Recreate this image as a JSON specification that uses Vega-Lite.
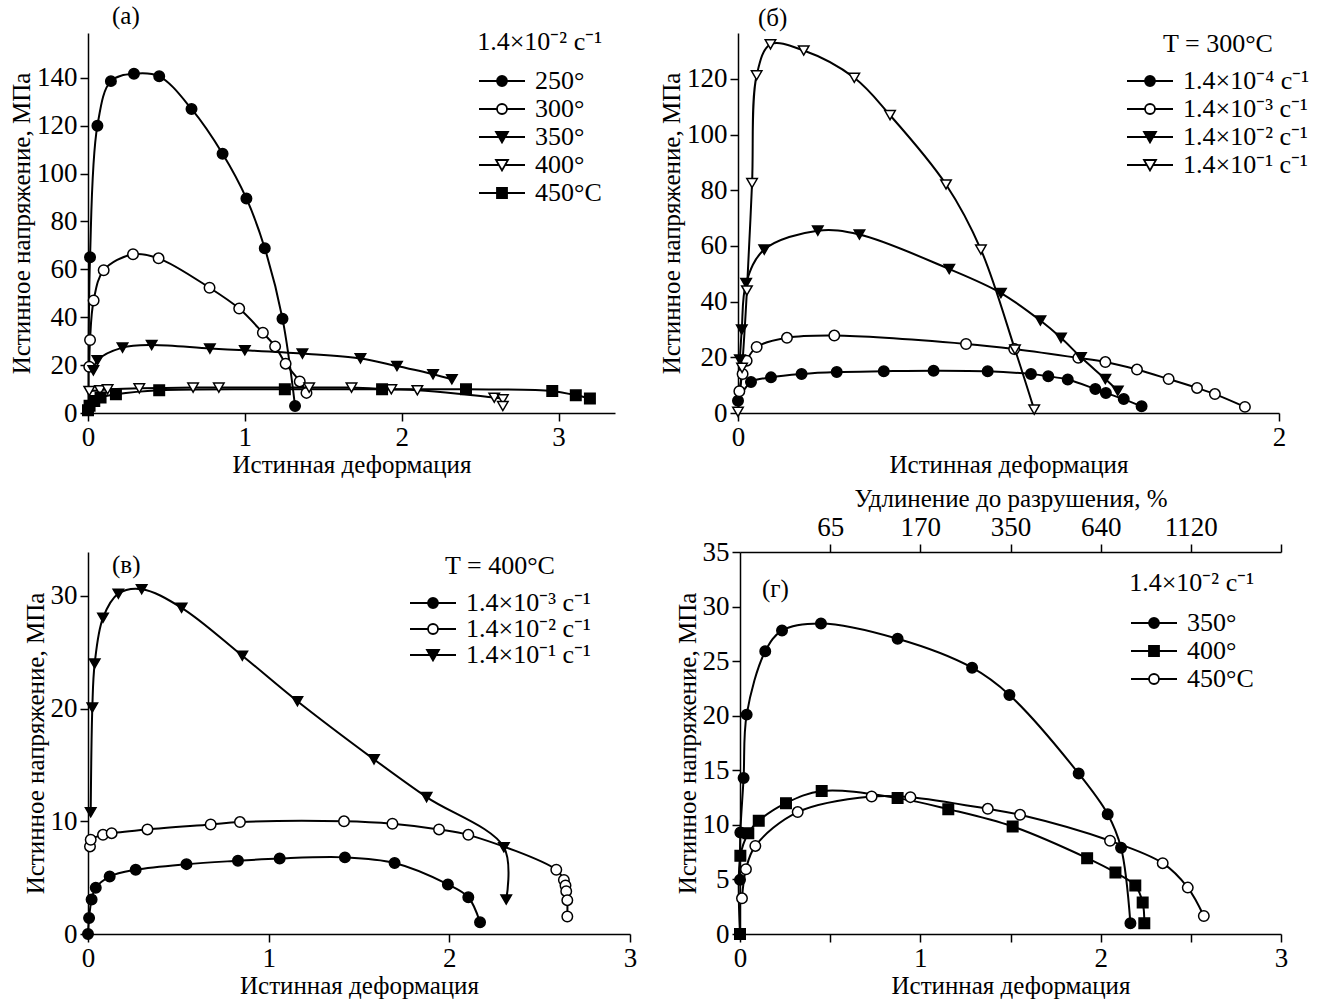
{
  "$schema": "https://vega.github.io/schema/vega-lite/v6.json",
  "padding": {"left": 9, "top": 4, "right": 5, "bottom": 5},
  "background": "white",
  "config": {
    "font": "Liberation Serif",
    "view": {"stroke": null},
    "axis": {"grid": false, "domainColor": "black", "tickColor": "black", "labelColor": "black", "titleColor": "black",
             "labelFont": "Liberation Serif", "titleFont": "Liberation Serif", "labelFontSize": 27, "titleFontSize": 25,
             "titleFontWeight": "normal", "tickSize": 8, "domainWidth": 1.5, "tickWidth": 1.5, "labelPadding": 3, "titlePadding": 2, "labelFlush": false, "labelOverlap": false},
    "legend": {"labelFont": "Liberation Serif", "titleFont": "Liberation Serif", "labelFontSize": 26, "titleFontSize": 26,
               "titleFontWeight": "normal", "labelColor": "black", "titleColor": "black", "labelLimit": 0, "titleLimit": 0, "padding": 0,
               "symbolSize": 100, "symbolOffset": 10, "labelOffset": 20, "symbolOpacity": 1, "symbolStrokeWidth": 1.8},
    "title": {"font": "Liberation Serif", "fontSize": 25, "fontWeight": "normal", "color": "black"}
  },
  "datasets": {
    "a": [
      {"s": "250°", "x": 0.004, "y": 2},
      {"s": "250°", "x": 0.013, "y": 65},
      {"s": "250°", "x": 0.06, "y": 120},
      {"s": "250°", "x": 0.146, "y": 138.6},
      {"s": "250°", "x": 0.293, "y": 141.7},
      {"s": "250°", "x": 0.454, "y": 140.6},
      {"s": "250°", "x": 0.66, "y": 127},
      {"s": "250°", "x": 0.858, "y": 108.3},
      {"s": "250°", "x": 1.01, "y": 89.6},
      {"s": "250°", "x": 1.127, "y": 68.8},
      {"s": "250°", "x": 1.24, "y": 39.4},
      {"s": "250°", "x": 1.32, "y": 2.9},
      {"s": "300°", "x": 0.008, "y": 19.3},
      {"s": "300°", "x": 0.013, "y": 30.5},
      {"s": "300°", "x": 0.036, "y": 47},
      {"s": "300°", "x": 0.1, "y": 59.6},
      {"s": "300°", "x": 0.287, "y": 66.3},
      {"s": "300°", "x": 0.45, "y": 64.6},
      {"s": "300°", "x": 0.775, "y": 52.3},
      {"s": "300°", "x": 0.964, "y": 43.6},
      {"s": "300°", "x": 1.115, "y": 33.5},
      {"s": "300°", "x": 1.193, "y": 27.8},
      {"s": "300°", "x": 1.26, "y": 20.6},
      {"s": "300°", "x": 1.35, "y": 13.2},
      {"s": "300°", "x": 1.393, "y": 8.4},
      {"s": "350°", "x": 0.034, "y": 17.8},
      {"s": "350°", "x": 0.06, "y": 22},
      {"s": "350°", "x": 0.22, "y": 27.3},
      {"s": "350°", "x": 0.406, "y": 28.4},
      {"s": "350°", "x": 0.777, "y": 26.9},
      {"s": "350°", "x": 1.0, "y": 26.2},
      {"s": "350°", "x": 1.367, "y": 24.8},
      {"s": "350°", "x": 1.737, "y": 22.8},
      {"s": "350°", "x": 1.97, "y": 19.6},
      {"s": "350°", "x": 2.2, "y": 16.2},
      {"s": "350°", "x": 2.32, "y": 14.1},
      {"s": "400°", "x": 0.008, "y": 9.2},
      {"s": "400°", "x": 0.076, "y": 9.5},
      {"s": "400°", "x": 0.125, "y": 9.9},
      {"s": "400°", "x": 0.327, "y": 10.3},
      {"s": "400°", "x": 0.67, "y": 10.6},
      {"s": "400°", "x": 0.834, "y": 10.6},
      {"s": "400°", "x": 1.41, "y": 10.6},
      {"s": "400°", "x": 1.68, "y": 10.6},
      {"s": "400°", "x": 1.934, "y": 9.9},
      {"s": "400°", "x": 2.1, "y": 9.5},
      {"s": "400°", "x": 2.59, "y": 6.4},
      {"s": "400°", "x": 2.645, "y": 5.7},
      {"s": "400°", "x": 2.645, "y": 2.9},
      {"s": "450°C", "x": 0.0, "y": 1.1},
      {"s": "450°C", "x": 0.01, "y": 3},
      {"s": "450°C", "x": 0.04, "y": 5},
      {"s": "450°C", "x": 0.08, "y": 6.5},
      {"s": "450°C", "x": 0.178, "y": 7.8},
      {"s": "450°C", "x": 0.454, "y": 9.5},
      {"s": "450°C", "x": 1.255, "y": 9.9},
      {"s": "450°C", "x": 1.875, "y": 9.9},
      {"s": "450°C", "x": 2.41, "y": 9.9},
      {"s": "450°C", "x": 2.96, "y": 9.2},
      {"s": "450°C", "x": 3.11, "y": 7.4},
      {"s": "450°C", "x": 3.2, "y": 6.1}
    ],
    "b": [
      {"s": "1.4×10⁻⁴ с⁻¹", "x": 0.0, "y": 4.4},
      {"s": "1.4×10⁻⁴ с⁻¹", "x": 0.048, "y": 11.1},
      {"s": "1.4×10⁻⁴ с⁻¹", "x": 0.122, "y": 12.8},
      {"s": "1.4×10⁻⁴ с⁻¹", "x": 0.235, "y": 14},
      {"s": "1.4×10⁻⁴ с⁻¹", "x": 0.365, "y": 14.7},
      {"s": "1.4×10⁻⁴ с⁻¹", "x": 0.539, "y": 15},
      {"s": "1.4×10⁻⁴ с⁻¹", "x": 0.723, "y": 15.2},
      {"s": "1.4×10⁻⁴ с⁻¹", "x": 0.923, "y": 15},
      {"s": "1.4×10⁻⁴ с⁻¹", "x": 1.083, "y": 14},
      {"s": "1.4×10⁻⁴ с⁻¹", "x": 1.147, "y": 13.2},
      {"s": "1.4×10⁻⁴ с⁻¹", "x": 1.219, "y": 12},
      {"s": "1.4×10⁻⁴ с⁻¹", "x": 1.321, "y": 8.6},
      {"s": "1.4×10⁻⁴ с⁻¹", "x": 1.36, "y": 7.2},
      {"s": "1.4×10⁻⁴ с⁻¹", "x": 1.426, "y": 5},
      {"s": "1.4×10⁻⁴ с⁻¹", "x": 1.492, "y": 2.4},
      {"s": "1.4×10⁻³ с⁻¹", "x": 0.005, "y": 7.8},
      {"s": "1.4×10⁻³ с⁻¹", "x": 0.017, "y": 14},
      {"s": "1.4×10⁻³ с⁻¹", "x": 0.032, "y": 18.8},
      {"s": "1.4×10⁻³ с⁻¹", "x": 0.069, "y": 23.7},
      {"s": "1.4×10⁻³ с⁻¹", "x": 0.181, "y": 27},
      {"s": "1.4×10⁻³ с⁻¹", "x": 0.356, "y": 27.8},
      {"s": "1.4×10⁻³ с⁻¹", "x": 0.843, "y": 24.8},
      {"s": "1.4×10⁻³ с⁻¹", "x": 1.021, "y": 23},
      {"s": "1.4×10⁻³ с⁻¹", "x": 1.258, "y": 19.8},
      {"s": "1.4×10⁻³ с⁻¹", "x": 1.358, "y": 18.3},
      {"s": "1.4×10⁻³ с⁻¹", "x": 1.475, "y": 15.6},
      {"s": "1.4×10⁻³ с⁻¹", "x": 1.592, "y": 12.2},
      {"s": "1.4×10⁻³ с⁻¹", "x": 1.697, "y": 9},
      {"s": "1.4×10⁻³ с⁻¹", "x": 1.763, "y": 6.8},
      {"s": "1.4×10⁻³ с⁻¹", "x": 1.874, "y": 2.2},
      {"s": "1.4×10⁻² с⁻¹", "x": 0.007, "y": 19.2},
      {"s": "1.4×10⁻² с⁻¹", "x": 0.014, "y": 30},
      {"s": "1.4×10⁻² с⁻¹", "x": 0.03, "y": 46.7},
      {"s": "1.4×10⁻² с⁻¹", "x": 0.097, "y": 58.7},
      {"s": "1.4×10⁻² с⁻¹", "x": 0.295, "y": 65.5},
      {"s": "1.4×10⁻² с⁻¹", "x": 0.449, "y": 64.1},
      {"s": "1.4×10⁻² с⁻¹", "x": 0.781, "y": 51.7},
      {"s": "1.4×10⁻² с⁻¹", "x": 0.972, "y": 43.1},
      {"s": "1.4×10⁻² с⁻¹", "x": 1.118, "y": 33.2},
      {"s": "1.4×10⁻² с⁻¹", "x": 1.194, "y": 27},
      {"s": "1.4×10⁻² с⁻¹", "x": 1.268, "y": 20},
      {"s": "1.4×10⁻² с⁻¹", "x": 1.358, "y": 12.2},
      {"s": "1.4×10⁻² с⁻¹", "x": 1.404, "y": 8},
      {"s": "1.4×10⁻¹ с⁻¹", "x": 0.0, "y": 0.4},
      {"s": "1.4×10⁻¹ с⁻¹", "x": 0.015, "y": 16.2},
      {"s": "1.4×10⁻¹ с⁻¹", "x": 0.033, "y": 44},
      {"s": "1.4×10⁻¹ с⁻¹", "x": 0.052, "y": 82.6},
      {"s": "1.4×10⁻¹ с⁻¹", "x": 0.069, "y": 121.3},
      {"s": "1.4×10⁻¹ с⁻¹", "x": 0.12, "y": 132.4},
      {"s": "1.4×10⁻¹ с⁻¹", "x": 0.243, "y": 130.2},
      {"s": "1.4×10⁻¹ с⁻¹", "x": 0.43, "y": 120.4},
      {"s": "1.4×10⁻¹ с⁻¹", "x": 0.562, "y": 107},
      {"s": "1.4×10⁻¹ с⁻¹", "x": 0.769, "y": 82.1},
      {"s": "1.4×10⁻¹ с⁻¹", "x": 0.898, "y": 58.7},
      {"s": "1.4×10⁻¹ с⁻¹", "x": 1.024, "y": 22.8},
      {"s": "1.4×10⁻¹ с⁻¹", "x": 1.095, "y": 1.2}
    ],
    "c": [
      {"s": "1.4×10⁻³ с⁻¹", "x": 0.0, "y": 0},
      {"s": "1.4×10⁻³ с⁻¹", "x": 0.006, "y": 1.42},
      {"s": "1.4×10⁻³ с⁻¹", "x": 0.02, "y": 3.06},
      {"s": "1.4×10⁻³ с⁻¹", "x": 0.043, "y": 4.1},
      {"s": "1.4×10⁻³ с⁻¹", "x": 0.12, "y": 5.1},
      {"s": "1.4×10⁻³ с⁻¹", "x": 0.264, "y": 5.7},
      {"s": "1.4×10⁻³ с⁻¹", "x": 0.545, "y": 6.2},
      {"s": "1.4×10⁻³ с⁻¹", "x": 0.83, "y": 6.5},
      {"s": "1.4×10⁻³ с⁻¹", "x": 1.061, "y": 6.7},
      {"s": "1.4×10⁻³ с⁻¹", "x": 1.422, "y": 6.8},
      {"s": "1.4×10⁻³ с⁻¹", "x": 1.697, "y": 6.3},
      {"s": "1.4×10⁻³ с⁻¹", "x": 1.992, "y": 4.4},
      {"s": "1.4×10⁻³ с⁻¹", "x": 2.105, "y": 3.26},
      {"s": "1.4×10⁻³ с⁻¹", "x": 2.17, "y": 1.04},
      {"s": "1.4×10⁻² с⁻¹", "x": 0.011, "y": 7.77},
      {"s": "1.4×10⁻² с⁻¹", "x": 0.015, "y": 8.36},
      {"s": "1.4×10⁻² с⁻¹", "x": 0.083, "y": 8.8},
      {"s": "1.4×10⁻² с⁻¹", "x": 0.131, "y": 8.95},
      {"s": "1.4×10⁻² с⁻¹", "x": 0.329, "y": 9.28},
      {"s": "1.4×10⁻² с⁻¹", "x": 0.679, "y": 9.72},
      {"s": "1.4×10⁻² с⁻¹", "x": 0.841, "y": 9.93},
      {"s": "1.4×10⁻² с⁻¹", "x": 1.417, "y": 10},
      {"s": "1.4×10⁻² с⁻¹", "x": 1.685, "y": 9.78},
      {"s": "1.4×10⁻² с⁻¹", "x": 1.943, "y": 9.28},
      {"s": "1.4×10⁻² с⁻¹", "x": 2.105, "y": 8.8},
      {"s": "1.4×10⁻² с⁻¹", "x": 2.592, "y": 5.7},
      {"s": "1.4×10⁻² с⁻¹", "x": 2.634, "y": 4.8},
      {"s": "1.4×10⁻² с⁻¹", "x": 2.643, "y": 4.3},
      {"s": "1.4×10⁻² с⁻¹", "x": 2.647, "y": 3.8},
      {"s": "1.4×10⁻² с⁻¹", "x": 2.653, "y": 3.0},
      {"s": "1.4×10⁻² с⁻¹", "x": 2.653, "y": 1.55},
      {"s": "1.4×10⁻¹ с⁻¹", "x": 0.015, "y": 10.8},
      {"s": "1.4×10⁻¹ с⁻¹", "x": 0.024, "y": 20.1},
      {"s": "1.4×10⁻¹ с⁻¹", "x": 0.037, "y": 24},
      {"s": "1.4×10⁻¹ с⁻¹", "x": 0.083, "y": 28.06},
      {"s": "1.4×10⁻¹ с⁻¹", "x": 0.168, "y": 30.2},
      {"s": "1.4×10⁻¹ с⁻¹", "x": 0.297, "y": 30.6},
      {"s": "1.4×10⁻¹ с⁻¹", "x": 0.518, "y": 28.95},
      {"s": "1.4×10⁻¹ с⁻¹", "x": 0.854, "y": 24.7},
      {"s": "1.4×10⁻¹ с⁻¹", "x": 1.159, "y": 20.66},
      {"s": "1.4×10⁻¹ с⁻¹", "x": 1.583, "y": 15.5},
      {"s": "1.4×10⁻¹ с⁻¹", "x": 1.874, "y": 12.15},
      {"s": "1.4×10⁻¹ с⁻¹", "x": 2.302, "y": 7.7},
      {"s": "1.4×10⁻¹ с⁻¹", "x": 2.315, "y": 3.06}
    ],
    "d": [
      {"s": "350°", "x": 0.0, "y": 4.96},
      {"s": "350°", "x": 0.002, "y": 9.3},
      {"s": "350°", "x": 0.02, "y": 14.3},
      {"s": "350°", "x": 0.037, "y": 20.1},
      {"s": "350°", "x": 0.14, "y": 25.9},
      {"s": "350°", "x": 0.233, "y": 27.8},
      {"s": "350°", "x": 0.449, "y": 28.45},
      {"s": "350°", "x": 0.874, "y": 27.05},
      {"s": "350°", "x": 1.287, "y": 24.4},
      {"s": "350°", "x": 1.494, "y": 21.9},
      {"s": "350°", "x": 1.878, "y": 14.7},
      {"s": "350°", "x": 2.039, "y": 10.98},
      {"s": "350°", "x": 2.113, "y": 7.9},
      {"s": "350°", "x": 2.165, "y": 0.98},
      {"s": "400°", "x": 0.0, "y": 0},
      {"s": "400°", "x": 0.002, "y": 7.16},
      {"s": "400°", "x": 0.046, "y": 9.24},
      {"s": "400°", "x": 0.104, "y": 10.37},
      {"s": "400°", "x": 0.255, "y": 11.99},
      {"s": "400°", "x": 0.453, "y": 13.1},
      {"s": "400°", "x": 0.874, "y": 12.45},
      {"s": "400°", "x": 1.155, "y": 11.44},
      {"s": "400°", "x": 1.512, "y": 9.85},
      {"s": "400°", "x": 1.925, "y": 6.95},
      {"s": "400°", "x": 2.082, "y": 5.63},
      {"s": "400°", "x": 2.192, "y": 4.44},
      {"s": "400°", "x": 2.233, "y": 2.88},
      {"s": "400°", "x": 2.242, "y": 0.98},
      {"s": "450°C", "x": 0.011, "y": 3.27},
      {"s": "450°C", "x": 0.033, "y": 5.93},
      {"s": "450°C", "x": 0.085, "y": 8.07},
      {"s": "450°C", "x": 0.32, "y": 11.17},
      {"s": "450°C", "x": 0.73, "y": 12.6},
      {"s": "450°C", "x": 0.945, "y": 12.54},
      {"s": "450°C", "x": 1.374, "y": 11.47},
      {"s": "450°C", "x": 1.553, "y": 10.92},
      {"s": "450°C", "x": 2.052, "y": 8.54},
      {"s": "450°C", "x": 2.344, "y": 6.49},
      {"s": "450°C", "x": 2.483, "y": 4.25},
      {"s": "450°C", "x": 2.572, "y": 1.65}
    ]
  },
  "spacing": 9,
  "resolve": {"scale": {"shape": "independent", "fill": "independent", "x": "independent", "y": "independent"}, "legend": {"shape": "independent", "fill": "independent"}},
  "vconcat": [
    {
      "spacing": 44,
      "resolve": {"scale": {"shape": "independent", "fill": "independent", "x": "independent", "y": "independent"}, "legend": {"shape": "independent", "fill": "independent"}},
      "hconcat": [
        {
          "width": 527, "height": 380,
          "title": {"text": "(а)", "anchor": "start", "frame": "group", "dx": 24, "offset": 0},
          "data": {"name": "a"},
          "resolve": {"scale": {"shape": "independent", "fill": "independent"}, "legend": {"shape": "independent", "fill": "independent"}},
          "layer": [
            {"mark": {"type": "line", "interpolate": "catmull-rom", "color": "black", "strokeWidth": 2},
             "encoding": {
               "x": {"field": "x", "type": "quantitative", "scale": {"domain": [0, 3.36], "nice": false, "zero": false}, "axis": {"values": [0, 1, 2, 3], "format": "d", "title": "Истинная деформация"}},
               "y": {"field": "y", "type": "quantitative", "scale": {"domain": [0, 158.7], "nice": false}, "axis": {"values": [0, 20, 40, 60, 80, 100, 120, 140], "format": "d", "title": "Истинное напряжение, МПа"}},
               "detail": {"field": "s"}, "order": {"value": null}}},
            {"mark": {"type": "point", "size": 110, "stroke": "black", "strokeWidth": 1.5, "opacity": 1},
             "encoding": {
               "x": {"field": "x", "type": "quantitative"},
               "y": {"field": "y", "type": "quantitative"},
               "shape": {"field": "s", "type": "nominal", "scale": {"domain": ["250°", "300°", "350°", "400°", "450°C"], "range": ["circle", "circle", "triangle-down", "triangle-down", "square"]}, "legend": null},
               "fill": {"field": "s", "type": "nominal", "scale": {"domain": ["250°", "300°", "350°", "400°", "450°C"], "range": ["black", "white", "black", "white", "black"]}, "legend": null}}},
            {"mark": {"type": "point", "size": 110, "stroke": "black", "strokeWidth": 1.8, "opacity": 0},
             "encoding": {
               "x": {"field": "x", "type": "quantitative"},
               "y": {"field": "y", "type": "quantitative"},
               "shape": {"field": "s", "type": "nominal",
                 "scale": {"domain": ["250°", "300°", "350°", "400°", "450°C"], "range": ["M-4.6,0H-1M1,0H4.6M-1,0A1,1,0,1,1,1,0A1,1,0,1,1,-1,0Z", "M-4.6,0H-1M1,0H4.6M-1,0A1,1,0,1,1,1,0A1,1,0,1,1,-1,0Z", "M-4.6,0H-0.63M0.63,0H4.6M-1.2,-1L1.2,-1L0,1.1Z", "M-4.6,0H-0.63M0.63,0H4.6M-1.2,-1L1.2,-1L0,1.1Z", "M-4.6,0H-1M1,0H4.6M-1,-1H1V1H-1Z"]},
                 "legend": {"title": "1.4×10⁻² с⁻¹", "orient": "none", "legendX": 389, "legendY": -4, "titleAnchor": "end", "titlePadding": 13, "rowPadding": 2}},
               "fill": {"field": "s", "type": "nominal", "scale": {"domain": ["250°", "300°", "350°", "400°", "450°C"], "range": ["black", "white", "black", "white", "black"]},
                 "legend": {"title": "1.4×10⁻² с⁻¹", "orient": "none", "legendX": 389, "legendY": -4, "titleAnchor": "end", "titlePadding": 13, "rowPadding": 2}}}}
          ]
        },
        {
          "width": 541, "height": 380,
          "title": {"text": "(б)", "anchor": "start", "frame": "group", "dx": 20, "offset": 0},
          "data": {"name": "b"},
          "resolve": {"scale": {"shape": "independent", "fill": "independent"}, "legend": {"shape": "independent", "fill": "independent"}},
          "layer": [
            {"mark": {"type": "line", "interpolate": "catmull-rom", "color": "black", "strokeWidth": 2},
             "encoding": {
               "x": {"field": "x", "type": "quantitative", "scale": {"domain": [0, 2], "nice": false, "zero": false}, "axis": {"values": [0, 1, 2], "format": "d", "title": "Истинная деформация"}},
               "y": {"field": "y", "type": "quantitative", "scale": {"domain": [0, 136.5], "nice": false}, "axis": {"values": [0, 20, 40, 60, 80, 100, 120], "format": "d", "title": "Истинное напряжение, МПа"}},
               "detail": {"field": "s"}, "order": {"value": null}}},
            {"mark": {"type": "point", "size": 110, "stroke": "black", "strokeWidth": 1.5, "opacity": 1},
             "encoding": {
               "x": {"field": "x", "type": "quantitative"},
               "y": {"field": "y", "type": "quantitative"},
               "shape": {"field": "s", "type": "nominal", "scale": {"domain": ["1.4×10⁻⁴ с⁻¹", "1.4×10⁻³ с⁻¹", "1.4×10⁻² с⁻¹", "1.4×10⁻¹ с⁻¹"], "range": ["circle", "circle", "triangle-down", "triangle-down"]}, "legend": null},
               "fill": {"field": "s", "type": "nominal", "scale": {"domain": ["1.4×10⁻⁴ с⁻¹", "1.4×10⁻³ с⁻¹", "1.4×10⁻² с⁻¹", "1.4×10⁻¹ с⁻¹"], "range": ["black", "white", "black", "white"]}, "legend": null}}},
            {"mark": {"type": "point", "size": 110, "stroke": "black", "strokeWidth": 1.8, "opacity": 0},
             "encoding": {
               "x": {"field": "x", "type": "quantitative"},
               "y": {"field": "y", "type": "quantitative"},
               "shape": {"field": "s", "type": "nominal",
                 "scale": {"domain": ["1.4×10⁻⁴ с⁻¹", "1.4×10⁻³ с⁻¹", "1.4×10⁻² с⁻¹", "1.4×10⁻¹ с⁻¹"], "range": ["M-4.6,0H-1M1,0H4.6M-1,0A1,1,0,1,1,1,0A1,1,0,1,1,-1,0Z", "M-4.6,0H-1M1,0H4.6M-1,0A1,1,0,1,1,1,0A1,1,0,1,1,-1,0Z", "M-4.6,0H-0.63M0.63,0H4.6M-1.2,-1L1.2,-1L0,1.1Z", "M-4.6,0H-0.63M0.63,0H4.6M-1.2,-1L1.2,-1L0,1.1Z"]},
                 "legend": {"title": "T = 300°C", "orient": "none", "legendX": 389, "legendY": -2, "titleAnchor": "middle", "titlePadding": 11, "rowPadding": 2}},
               "fill": {"field": "s", "type": "nominal", "scale": {"domain": ["1.4×10⁻⁴ с⁻¹", "1.4×10⁻³ с⁻¹", "1.4×10⁻² с⁻¹", "1.4×10⁻¹ с⁻¹"], "range": ["black", "white", "black", "white"]},
                 "legend": {"title": "T = 300°C", "orient": "none", "legendX": 389, "legendY": -2, "titleAnchor": "middle", "titlePadding": 11, "rowPadding": 2}}}}
          ]
        }
      ]
    },
    {
      "spacing": 38,
      "resolve": {"scale": {"shape": "independent", "fill": "independent", "x": "independent", "y": "independent"}, "legend": {"shape": "independent", "fill": "independent"}},
      "hconcat": [
        {
          "width": 542, "height": 382,
          "title": {"text": "(в)", "anchor": "start", "frame": "group", "dx": 24, "dy": 26, "offset": 0},
          "data": {"name": "c"},
          "resolve": {"scale": {"shape": "independent", "fill": "independent"}, "legend": {"shape": "independent", "fill": "independent"}},
          "layer": [
            {"mark": {"type": "line", "interpolate": "catmull-rom", "color": "black", "strokeWidth": 2},
             "encoding": {
               "x": {"field": "x", "type": "quantitative", "scale": {"domain": [0, 3], "nice": false, "zero": false}, "axis": {"values": [0, 1, 2, 3], "format": "d", "title": "Истинная деформация"}},
               "y": {"field": "y", "type": "quantitative", "scale": {"domain": [0, 33.9], "nice": false}, "axis": {"values": [0, 10, 20, 30], "format": "d", "title": "Истинное напряжение, МПа"}},
               "detail": {"field": "s"}, "order": {"value": null}}},
            {"mark": {"type": "point", "size": 110, "stroke": "black", "strokeWidth": 1.5, "opacity": 1},
             "encoding": {
               "x": {"field": "x", "type": "quantitative"},
               "y": {"field": "y", "type": "quantitative"},
               "shape": {"field": "s", "type": "nominal", "scale": {"domain": ["1.4×10⁻³ с⁻¹", "1.4×10⁻² с⁻¹", "1.4×10⁻¹ с⁻¹"], "range": ["circle", "circle", "triangle-down"]}, "legend": null},
               "fill": {"field": "s", "type": "nominal", "scale": {"domain": ["1.4×10⁻³ с⁻¹", "1.4×10⁻² с⁻¹", "1.4×10⁻¹ с⁻¹"], "range": ["black", "white", "black"]}, "legend": null}}},
            {"mark": {"type": "point", "size": 110, "stroke": "black", "strokeWidth": 1.8, "opacity": 0},
             "encoding": {
               "x": {"field": "x", "type": "quantitative"},
               "y": {"field": "y", "type": "quantitative"},
               "shape": {"field": "s", "type": "nominal",
                 "scale": {"domain": ["1.4×10⁻³ с⁻¹", "1.4×10⁻² с⁻¹", "1.4×10⁻¹ с⁻¹"], "range": ["M-4.6,0H-1M1,0H4.6M-1,0A1,1,0,1,1,1,0A1,1,0,1,1,-1,0Z", "M-4.6,0H-1M1,0H4.6M-1,0A1,1,0,1,1,1,0A1,1,0,1,1,-1,0Z", "M-4.6,0H-0.63M0.63,0H4.6M-1.2,-1L1.2,-1L0,1.1Z"]},
                 "legend": {"title": "T = 400°C", "orient": "none", "legendX": 322, "legendY": 1, "titleAnchor": "middle", "titlePadding": 11, "rowPadding": 0}},
               "fill": {"field": "s", "type": "nominal", "scale": {"domain": ["1.4×10⁻³ с⁻¹", "1.4×10⁻² с⁻¹", "1.4×10⁻¹ с⁻¹"], "range": ["black", "white", "black"]},
                 "legend": {"title": "T = 400°C", "orient": "none", "legendX": 322, "legendY": 1, "titleAnchor": "middle", "titlePadding": 11, "rowPadding": 0}}}}
          ]
        },
        {
          "width": 541, "height": 382,
          "title": {"text": "(г)", "anchor": "start", "frame": "group", "dx": 22, "dy": 116, "offset": 0},
          "data": {"name": "d"},
          "resolve": {"axis": {"x": "independent"}, "scale": {"shape": "independent", "fill": "independent"}, "legend": {"shape": "independent", "fill": "independent"}},
          "layer": [
            {"mark": {"type": "line", "interpolate": "catmull-rom", "color": "black", "strokeWidth": 2},
             "encoding": {
               "x": {"field": "x", "type": "quantitative", "scale": {"domain": [0, 3], "nice": false, "zero": false}, "axis": {"values": [0, 0.5, 1, 1.5, 2, 2.5, 3], "labelExpr": "datum.value % 1 == 0 ? '' + datum.value : ''", "title": "Истинная деформация"}},
               "y": {"field": "y", "type": "quantitative", "scale": {"domain": [0, 35], "nice": false}, "axis": {"values": [0, 5, 10, 15, 20, 25, 30, 35], "format": "d", "title": "Истинное напряжение, МПа"}},
               "detail": {"field": "s"}, "order": {"value": null}}},
            {"mark": {"type": "point", "size": 110, "stroke": "black", "strokeWidth": 1.5, "opacity": 1},
             "encoding": {
               "x": {"field": "x", "type": "quantitative", "axis": {"orient": "top", "values": [0.5, 1, 1.5, 2, 2.5, 3], "labelExpr": "datum.value == 0.5 ? '65' : datum.value == 1 ? '170' : datum.value == 1.5 ? '350' : datum.value == 2 ? '640' : datum.value == 2.5 ? '1120' : ''", "title": "Удлинение до разрушения, %"}},
               "y": {"field": "y", "type": "quantitative"},
               "shape": {"field": "s", "type": "nominal", "scale": {"domain": ["350°", "400°", "450°C"], "range": ["circle", "square", "circle"]}, "legend": null},
               "fill": {"field": "s", "type": "nominal", "scale": {"domain": ["350°", "400°", "450°C"], "range": ["black", "black", "white"]}, "legend": null}}},
            {"mark": {"type": "point", "size": 110, "stroke": "black", "strokeWidth": 1.8, "opacity": 0},
             "encoding": {
               "x": {"field": "x", "type": "quantitative", "axis": null},
               "y": {"field": "y", "type": "quantitative"},
               "shape": {"field": "s", "type": "nominal",
                 "scale": {"domain": ["350°", "400°", "450°C"], "range": ["M-4.6,0H-1M1,0H4.6M-1,0A1,1,0,1,1,1,0A1,1,0,1,1,-1,0Z", "M-4.6,0H-1M1,0H4.6M-1,-1H1V1H-1Z", "M-4.6,0H-1M1,0H4.6M-1,0A1,1,0,1,1,1,0A1,1,0,1,1,-1,0Z"]},
                 "legend": {"title": "1.4×10⁻² с⁻¹", "orient": "none", "legendX": 389, "legendY": 18, "titleAnchor": "end", "titlePadding": 14, "rowPadding": 2}},
               "fill": {"field": "s", "type": "nominal", "scale": {"domain": ["350°", "400°", "450°C"], "range": ["black", "black", "white"]},
                 "legend": {"title": "1.4×10⁻² с⁻¹", "orient": "none", "legendX": 389, "legendY": 18, "titleAnchor": "end", "titlePadding": 14, "rowPadding": 2}}}}
          ]
        }
      ]
    }
  ]
}
